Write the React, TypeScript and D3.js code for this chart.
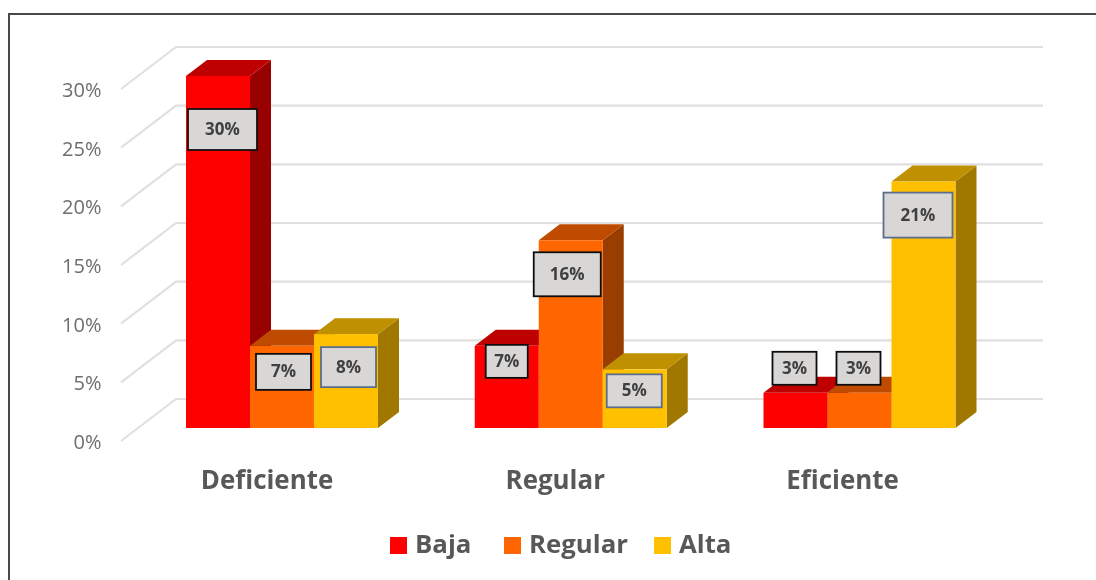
import React from "react";
import * as d3 from "d3";

const categories = ["Deficiente", "Regular", "Eficiente"];
const seriesNames = ["Baja", "Regular", "Alta"];
const baja = [30, 7, 3];
const regular = [7, 16, 3];
const alta = [8, 5, 21];
const yTicks = [0, 5, 10, 15, 20, 25, 30];

const allSeries = [baja, regular, alta];
const front = ["#FF0000", "#FF6600", "#FFC000"];
const topFace = ["#BF0000", "#BF4C00", "#BF9000"];
const sideFace = ["#990000", "#993D00", "#A07800"];
const labelBorder = [
  ["#111", "#111", "#5B6E8C"],
  ["#111", "#111", "#5B6E8C"],
  ["#111", "#111", "#5B6E8C"],
];
// hand-placed data-label boxes, as offsets from the top-left of each bar's front face
const labelOffset = [
  [{ dx: 2, dy: 33, w: 69, h: 41 }, { dx: 6, dy: 8, w: 55, h: 36 }, { dx: 7, dy: 13, w: 55, h: 40 }],
  [{ dx: 11, dy: -1, w: 42, h: 33 }, { dx: -5, dy: 12, w: 67, h: 44 }, { dx: 4, dy: 5, w: 55, h: 33 }],
  [{ dx: 9, dy: -41, w: 44, h: 33 }, { dx: 9, dy: -41, w: 44, h: 33 }, { dx: -8, dy: 11, w: 69, h: 45 }],
];
const categoryLabelOffset = [81, 80.5, 79];

const FONT = "'Open Sans', sans-serif";
const depthX = 21;
const depthY = 16;
const barW = 64;

const yFront = d3.scaleLinear().domain([0, 30]).range([428, 76]);
const yBack = d3.scaleLinear().domain([0, 30]).range([399, 47]);
const yWing = d3.scaleLinear().domain([0, 30]).range([441, 89]);
const xGroup = d3.scalePoint<string>().domain(categories).range([186, 763.5]);

const legendX = [390, 504, 654];

export default function App() {
  return (
    <svg
      width={1096}
      height={580}
      style={{ position: "absolute", left: 0, top: 0, background: "#fff" }}
    >
      <defs>
        <filter id="soft" x="0" y="0" width="100%" height="100%">
          <feGaussianBlur stdDeviation="0.55" />
        </filter>
      </defs>
      <g filter="url(#soft)">
        <path d="M8.5,580V13.5H1096" fill="none" stroke="#4A4A4A" strokeWidth={3} />
        {yTicks.map((t) => (
          <g key={t}>
            <path
              d={`M121,${yWing(t)}L176,${yBack(t)}H1043`}
              fill="none"
              stroke="#E0E0E0"
              strokeWidth={2.2}
            />
            <text
              x={101.5}
              y={yWing(t) + 8}
              textAnchor="end"
              fontFamily={FONT}
              fontSize={20}
              fontWeight={500}
              fill="#6E6E6E"
            >
              {t}%
            </text>
          </g>
        ))}
        {categories.map((c, g) => {
          const x0 = xGroup(c)!;
          return (
            <g key={c}>
              {allSeries.map((s, i) => {
                const x = x0 + i * barW;
                const yT = yFront(s[g]);
                const yB = yFront(0);
                return (
                  <g key={i}>
                    <path
                      d={`M${x + barW},${yT}l${depthX},${-depthY}V${yB - depthY}l${-depthX},${depthY}Z`}
                      fill={sideFace[i]}
                    />
                    <path
                      d={`M${x},${yT}l${depthX},${-depthY}h${barW}l${-depthX},${depthY}Z`}
                      fill={topFace[i]}
                    />
                    <rect x={x} y={yT} width={barW} height={yB - yT} fill={front[i]} />
                  </g>
                );
              })}
              <text
                x={x0 + categoryLabelOffset[g]}
                y={489}
                textAnchor="middle"
                fontFamily={FONT}
                fontWeight={700}
                fontSize={25.9}
                fill="#595959"
              >
                {c}
              </text>
            </g>
          );
        })}
        {categories.map((c, g) =>
          allSeries.map((s, i) => {
            const o = labelOffset[g][i];
            const bx = xGroup(c)! + i * barW + o.dx;
            const by = yFront(s[g]) + o.dy;
            return (
              <g key={`${c}-${i}`}>
                <rect
                  x={bx}
                  y={by}
                  width={o.w}
                  height={o.h}
                  fill="#D9D7D6"
                  stroke={labelBorder[g][i]}
                  strokeWidth={1.8}
                />
                <text
                  x={bx + o.w / 2}
                  y={by + o.h / 2 + 5.5}
                  textAnchor="middle"
                  fontFamily={FONT}
                  fontWeight={700}
                  fontSize={17}
                  fill="#404040"
                >
                  {s[g]}%
                </text>
              </g>
            );
          })
        )}
        {seriesNames.map((n, i) => (
          <g key={n}>
            <rect x={legendX[i]} y={537} width={17} height={17} fill={front[i]} />
            <text
              x={legendX[i] + 25}
              y={553}
              fontFamily={FONT}
              fontWeight={700}
              fontSize={25.8}
              fill="#595959"
            >
              {n}
            </text>
          </g>
        ))}
      </g>
    </svg>
  );
}
